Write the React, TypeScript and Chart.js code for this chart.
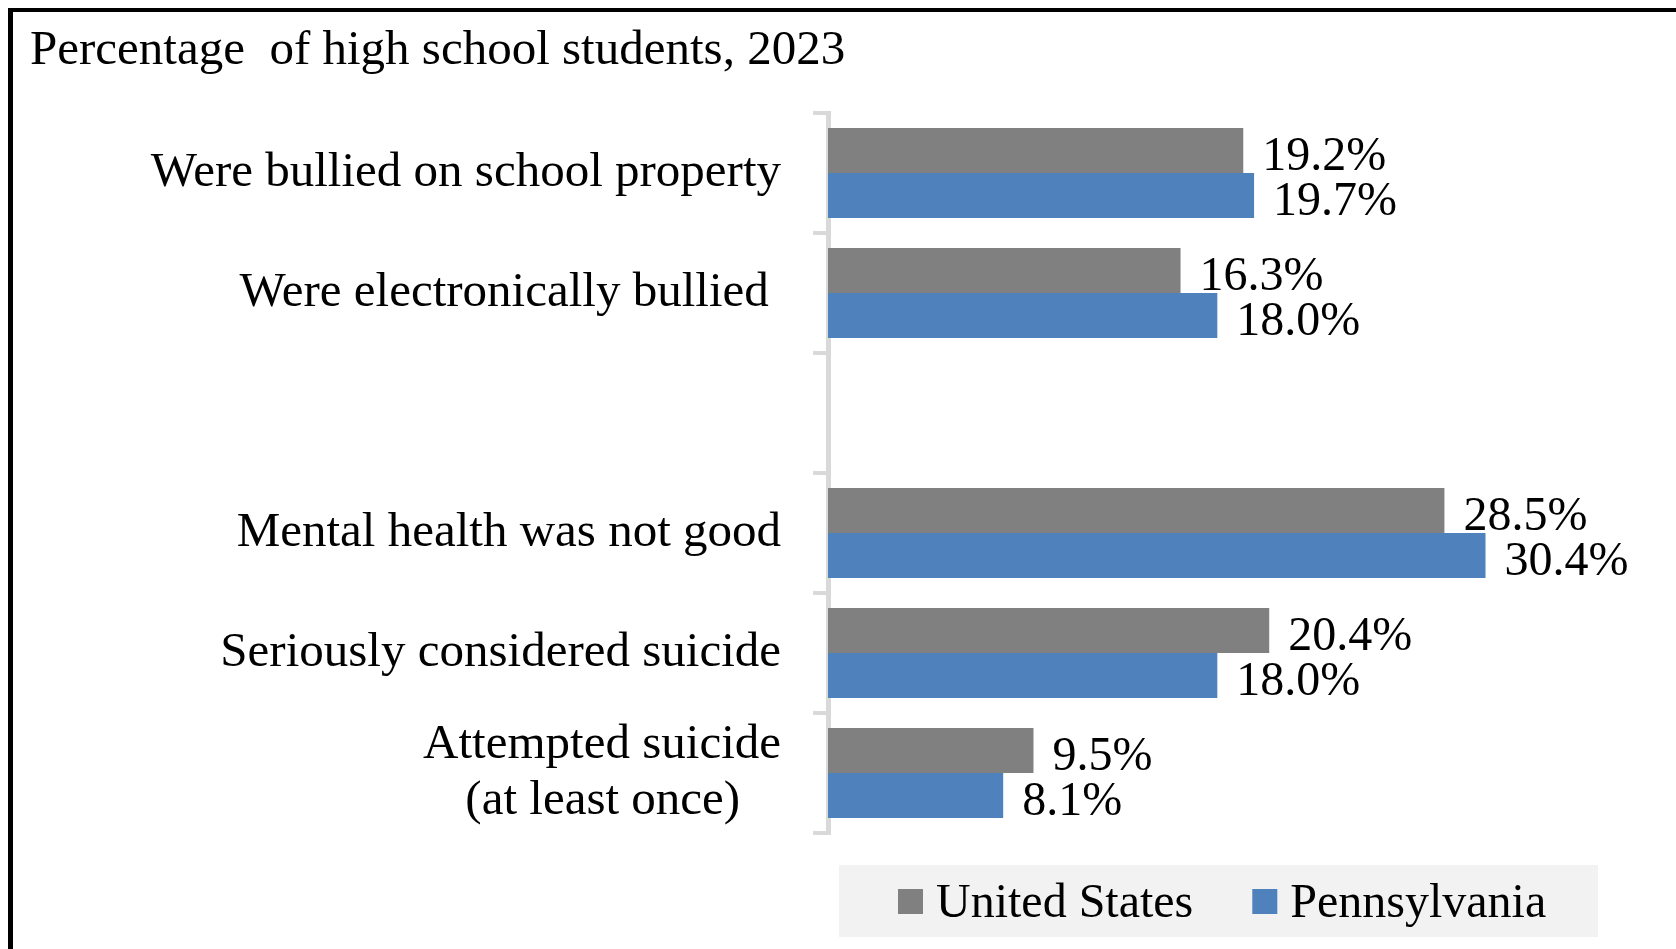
import React, { useEffect, useRef } from "react";
import { Chart, registerables } from "chart.js";

Chart.register(...registerables);

const titleText = "Percentage  of high school students, 2023";
const categories: (string | string[])[] = [
  "Were bullied on school property",
  "Were electronically bullied ",
  "",
  "Mental health was not good",
  "Seriously considered suicide",
  ["Attempted suicide", "(at least once)   \u200A"],
];
const seriesNames = ["United States", "Pennsylvania"];
const seriesColors = ["#808080", "#4F81BD"];
const usValues = [19.2, 16.3, null, 28.5, 20.4, 9.5];
const paValues = [19.7, 18.0, null, 30.4, 18.0, 8.1];
const xMin = 0;
const xMax = 35;

const FONT = "'Liberation Serif', 'Times New Roman', serif";

const valueLabelPlugin = {
  id: "valueLabels",
  afterDatasetsDraw(chart: any) {
    const ctx = chart.ctx;
    ctx.save();
    ctx.font = `48px ${FONT}`;
    ctx.fillStyle = "#000000";
    ctx.textAlign = "left";
    ctx.textBaseline = "alphabetic";
    chart.data.datasets.forEach((ds: any, di: number) => {
      const meta = chart.getDatasetMeta(di);
      meta.data.forEach((bar: any, i: number) => {
        const v = ds.data[i];
        if (v === null || v === undefined) return;
        ctx.fillText(v.toFixed(1) + "%", bar.x + 19, bar.y + 19.5);
      });
    });
    ctx.restore();
  },
};

const boxLegendPlugin = {
  id: "boxLegend",
  afterDraw(chart: any) {
    const ctx = chart.ctx;
    const area = chart.chartArea;
    const boxLeft = area.left + 11;
    const boxTop = area.bottom + 32;
    const boxW = 759;
    const boxH = 72;
    ctx.save();
    ctx.fillStyle = "#F2F2F2";
    ctx.fillRect(boxLeft, boxTop, boxW, boxH);
    ctx.font = `48px ${FONT}`;
    ctx.textBaseline = "alphabetic";
    ctx.textAlign = "left";
    let x = boxLeft + 59;
    const sq = 25;
    const sqTop = boxTop + 24;
    const baseline = boxTop + 52;
    chart.data.datasets.forEach((ds: any) => {
      ctx.fillStyle = ds.backgroundColor;
      ctx.fillRect(x, sqTop, sq, sq);
      x += sq + 13;
      ctx.fillStyle = "#000000";
      ctx.fillText(ds.label, x, baseline);
      x += ctx.measureText(ds.label).width + 59;
    });
    ctx.restore();
  },
};

export default function App() {
  const canvasRef = useRef<HTMLCanvasElement | null>(null);

  useEffect(() => {
    if (!canvasRef.current) return;
    const chart = new Chart(canvasRef.current, {
      type: "bar",
      data: {
        labels: categories,
        datasets: [
          {
            label: seriesNames[0],
            data: usValues,
            backgroundColor: seriesColors[0],
            borderWidth: 0,
            categoryPercentage: 0.75,
            barPercentage: 1.0,
          },
          {
            label: seriesNames[1],
            data: paValues,
            backgroundColor: seriesColors[1],
            borderWidth: 0,
            categoryPercentage: 0.75,
            barPercentage: 1.0,
          },
        ],
      },
      options: {
        indexAxis: "y",
        responsive: false,
        animation: false,
        devicePixelRatio: 1,
        layout: { padding: { left: 30, right: 91, top: 0, bottom: 116 } },
        plugins: {
          legend: { display: false },
          tooltip: { enabled: false },
          title: {
            display: true,
            text: titleText,
            align: "start",
            color: "#000000",
            font: { family: FONT, size: 49, weight: "normal", lineHeight: 1.2 },
            padding: { top: 22, bottom: 32.2 },
          },
        },
        scales: {
          x: { display: false, min: xMin, max: xMax },
          y: {
            z: 1,
            grid: {
              display: true,
              drawOnChartArea: false,
              drawTicks: true,
              tickLength: 15,
              color: "#D9D9D9",
              lineWidth: 4,
              offset: true,
            },
            border: { display: true, color: "#D9D9D9", width: 5 },
            ticks: {
              autoSkip: false,
              padding: 32,
              color: "#000000",
              font: { family: FONT, size: 49, lineHeight: 1.15 },
            },
            afterFit: (scale: any) => {
              scale.width = 798;
            },
          },
        },
      } as any,
      plugins: [valueLabelPlugin, boxLegendPlugin],
    });
    return () => chart.destroy();
  }, []);

  return (
    <div
      style={{
        position: "fixed",
        left: 0,
        top: 0,
        width: 1676,
        height: 949,
        overflow: "hidden",
        background: "#ffffff",
      }}
    >
      <div
        style={{
          position: "absolute",
          left: 8,
          top: 8,
          width: 2000,
          height: 2000,
          borderTop: "4px solid #000000",
          borderLeft: "5px solid #000000",
          boxSizing: "border-box",
        }}
      />
      <canvas
        ref={canvasRef}
        width={1676}
        height={949}
        style={{ position: "absolute", left: 0, top: 0, width: 1676, height: 949 }}
      />
    </div>
  );
}
